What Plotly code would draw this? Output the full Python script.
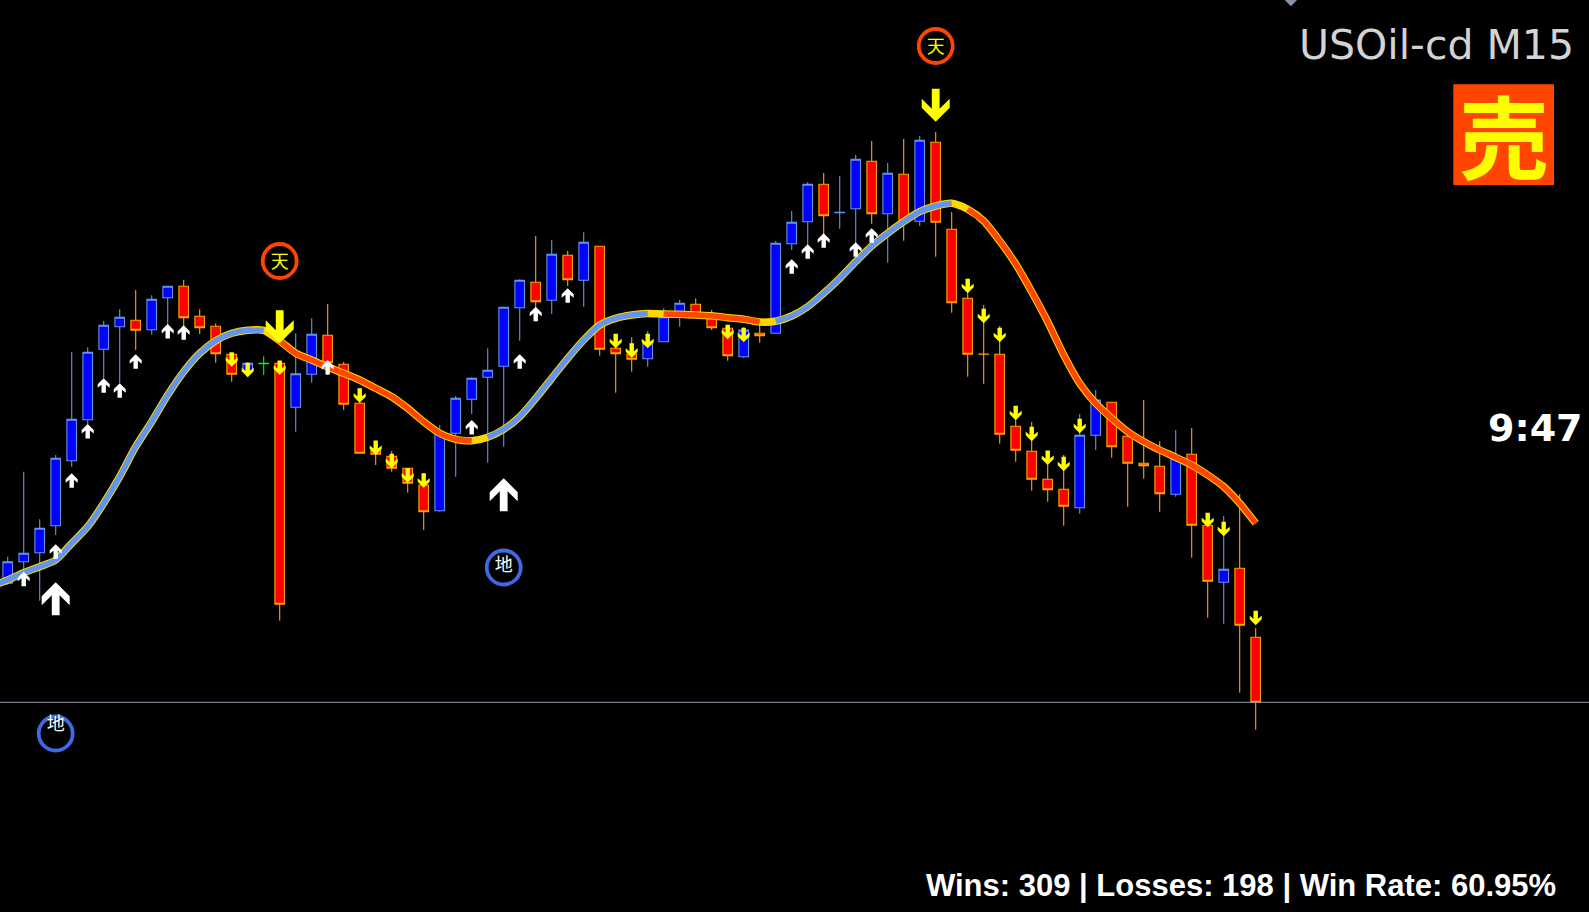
import plotly.graph_objects as go

# Price is on a notional scale (the reference has no visible price axis).
body_top = [350.3,358.7,383.7,453.7,492.7,559.7,586.7,594.7,591.7,612.7,625.7,625.7,595.7,585.7,557.7,548.7,548.7,548.7,538.3,577.7,
            576.7,547.7,508.7,461.3,455.7,443.7,427.0,478.7,513.7,533.7,541.7,604.7,631.7,629.7,657.7,656.7,669.7,665.7,563.7,557.7,
            569.0,595.3,608.7,607.7,595.3,583.7,582.0,578.7,668.7,689.7,727.7,727.7,699.7,752.7,750.7,738.7,737.7,771.7,769.7,682.7,
            613.7,558.0,557.7,485.7,460.7,432.7,422.7,476.7,512.0,509.7,475.7,448.7,445.7,453.7,457.7,386.7,342.7,343.7,274.7]
body_bottom = [328.7,350.3,359.3,386.3,451.3,492.3,562.7,585.3,581.7,582.3,614.3,594.3,584.3,558.3,537.7,540.3,548.3,307.7,504.7,537.7,
               549.3,507.7,458.7,457.7,443.7,428.7,400.3,401.3,478.7,512.7,534.7,545.7,604.3,610.3,611.7,632.3,631.7,562.7,558.3,552.7,
               553.3,570.3,594.7,594.7,584.3,556.3,555.3,576.3,578.7,668.3,690.3,696.3,699.3,703.3,698.3,698.3,689.7,690.7,689.7,609.3,
               557.7,557.7,477.7,461.7,432.7,422.3,405.7,404.3,476.7,465.3,448.7,446.3,418.3,417.7,386.7,330.7,329.7,286.7,209.7]
wick_high = [355.3,440.3,392.7,457.0,560.0,564.7,591.0,602.7,622.0,616.7,625.7,632.0,602.7,588.7,558.7,550.0,555.7,550.3,578.7,593.7,
             608.0,550.3,517.0,468.7,461.0,443.7,438.7,487.0,516.0,534.7,563.7,604.7,632.7,676.0,672.0,661.0,679.7,665.7,573.7,574.7,
             581.0,603.7,612.0,613.7,602.0,586.0,584.7,593.7,671.0,701.0,730.0,739.0,736.0,757.0,771.0,749.0,773.0,776.0,780.0,700.0,
             627.0,607.0,586.0,498.7,490.0,460.3,457.0,498.0,522.0,509.7,482.0,512.0,470.7,482.0,484.0,397.0,396.0,418.0,284.0]
wick_low = [327.0,328.7,311.3,377.0,445.3,487.0,533.7,528.7,562.0,577.3,587.0,585.3,578.0,549.3,530.3,535.3,537.0,291.3,480.3,529.3,
            537.0,502.0,458.7,447.0,440.3,419.3,382.0,400.3,435.3,498.0,449.3,465.3,571.3,604.7,598.0,626.0,605.3,556.3,519.3,540.3,
            545.3,570.3,585.3,594.7,582.0,551.3,554.0,569.3,578.7,662.0,667.0,677.0,683.3,668.7,688.3,649.3,671.3,686.0,655.3,599.3,
            535.3,528.3,468.3,450.3,421.3,410.3,386.3,398.3,462.0,454.3,405.3,433.3,400.3,415.3,354.3,294.3,288.3,219.3,182.3]
# u = bull (blue), d = bear (red), n = neutral doji (green)
direction = list("uuuuuuuudu" "uddddunduu" "ddddddduuu" "uuudududdd" "uuuddduduu"
                 "uduudududd" "ddddddduud" "ddduddudd")

ma_index = list(range(-1, 79))
ma_values = [326,332,339.3,345.3,352,368.7,385.3,408.7,435.3,465.3,490.3,517,540.3,558.7,571.3,578.7,581.7,581.7,571.3,558.7,552,
             545,538.7,532,523.7,515.3,503.7,490.3,478.7,472.7,471.3,474.7,482.7,495.3,513.7,533.7,553.7,572,587,593.7,597,
             598.5,598,597.7,597,596.3,594.3,592.7,590,590.7,596,605.3,618.7,633.7,650.3,666,678.7,690.3,700.3,706,708.7,
             702.7,691,671,648,620.3,590.3,557,528.7,508.7,493.7,480.3,470.3,462,454.7,447,437,425.3,408.7,388.7]
# Runs of the moving average by index: (first, last)
ma_up_runs = [(-1,16),(30,40),(48,59)]
ma_down_runs = [(17,29),(41,47),(60,78)]

small_up_idx = [1,3,4,5,6,7,8,10,11,20,29,32,33,35,49,50,51,53,54]
small_up_val = [340.3,367.7,438.7,488,533.7,528.7,557.7,588,586.7,552,492,557.7,605.3,623.7,652.7,667.7,678.7,669.7,683.7]
small_down_idx = [14,15,17,22,23,24,25,26,38,39,40,45,46,60,61,62,63,64,65,66,67,75,76,78]
small_down_val = [545.3,534.7,537,509.3,457,443.7,429.3,424.3,563.7,554.3,563.7,572.7,569.7,618.7,588.7,569.7,491.7,470.7,447,440.7,478.7,384.7,375.7,286.7]
big_up_idx = [3,31]
big_up_val = [329.7,433.7]
big_down_idx = [17,58]
big_down_val = [568.7,790.3]

top_idx = [17,58]
top_val = [651,866]
top_text_val = [649,863.5]
bottom_idx = [3,31]
bottom_val = [178.5,344.5]
bottom_text_val = [186.5,346]
bid_price = 209.7

title_text = "USOil-cd M15"
signal_text = "売"
clock_text = "9:47"
stats_text = "Wins: 309 | Losses: 198 | Win Rate: 60.95%"

W, H = 1589, 912
BLUE, LBLUE, RED, ORANGE = "#0000FF", "#6495ED", "#FF0000", "#FFA500"
GOLD = "#FFD700"

fig = go.Figure()

def ohlc(keep):
    xs, o, h, l, c = [], [], [], [], []
    for i, d in enumerate(direction):
        if d not in keep:
            continue
        xs.append(i); h.append(wick_high[i]); l.append(wick_low[i])
        if d == "d":
            o.append(body_top[i]); c.append(body_bottom[i])
        else:
            o.append(body_bottom[i]); c.append(body_top[i])
    return xs, o, h, l, c

xs, o, h, l, c = ohlc("ud")
fig.add_trace(go.Candlestick(x=xs, open=o, high=h, low=l, close=c, hoverinfo="skip",
    increasing=dict(line=dict(color=LBLUE, width=1.1), fillcolor=BLUE),
    decreasing=dict(line=dict(color=ORANGE, width=1.1), fillcolor=RED)))
xs, o, h, l, c = ohlc("n")
fig.add_trace(go.Candlestick(x=xs, open=o, high=h, low=l, close=c, hoverinfo="skip",
    increasing=dict(line=dict(color="#00FF00", width=1.1), fillcolor="#00FF00"),
    decreasing=dict(line=dict(color="#00FF00", width=1.1), fillcolor="#00FF00")))

SPLINE = dict(shape="spline", smoothing=0.7)
fig.add_trace(go.Scatter(x=ma_index, y=ma_values, mode="lines", hoverinfo="skip",
                         line=dict(color=GOLD, width=7.5, **SPLINE)))
def ma_run_trace(runs, color):
    for a, b in runs:
        xs = list(range(a, b + 1))
        ys = [ma_values[i + 1] for i in xs]
        fig.add_trace(go.Scatter(x=xs, y=ys, mode="lines", hoverinfo="skip",
                                 line=dict(color=color, width=5.5, **SPLINE)))
ma_run_trace(ma_up_runs, LBLUE)
ma_run_trace(ma_down_runs, "#FF4500")

# Signal circles and their labels
fig.add_trace(go.Scatter(x=top_idx, y=top_val, mode="markers", hoverinfo="skip",
    marker=dict(symbol="circle-open", size=34, color="#FF4500", line=dict(width=3.8, color="#FF4500"))))
fig.add_trace(go.Scatter(x=bottom_idx, y=bottom_val, mode="markers", hoverinfo="skip",
    marker=dict(symbol="circle-open", size=34, color="#4169E1", line=dict(width=3.8, color="#4169E1"))))
fig.add_trace(go.Scatter(x=top_idx, y=top_text_val, mode="text", text=["天"] * len(top_idx), hoverinfo="skip",
    textposition="middle center", textfont=dict(family="Noto Sans CJK JP", size=18, color="#FFFF00")))
fig.add_trace(go.Scatter(x=bottom_idx, y=bottom_text_val, mode="text", text=["地"] * len(bottom_idx), hoverinfo="skip",
    textposition="middle center", textfont=dict(family="Noto Sans CJK JP", size=18, color="#FFFFFF")))

# small clipped glyph at the very top edge
fig.add_trace(go.Scatter(x=[80.2], y=[913], mode="markers", hoverinfo="skip",
    marker=dict(symbol="diamond", size=11, color="#8A94A6")))

def arrow_path(k, up):
    s = -1 if up else 1
    pts = [(0,0),(6,6),(6,9.5),(2.2,6.5),(2.2,14.5),(-2.2,14.5),(-2.2,6.5),(-6,9.5),(-6,6)]
    if k > 1:
        pts = [(0,0),(14,14),(14,23),(3.9,13),(3.9,33),(-3.9,33),(-3.9,13),(-14,23),(-14,14)]
    return "M" + " L".join(f"{px:g},{s*py:g}" for px, py in pts) + " Z"

shapes = [dict(type="line", xref="paper", x0=0, x1=1, yref="y", y0=bid_price, y1=bid_price,
               line=dict(color="#8F9BA8", width=1), layer="above")]
def add_arrows(idx, vals, big, up, color):
    for i, v in zip(idx, vals):
        shapes.append(dict(type="path", xref="x", yref="y", xsizemode="pixel", ysizemode="pixel",
                           xanchor=i, yanchor=v, path=arrow_path(2 if big else 1, up),
                           fillcolor=color, line=dict(width=0), layer="above"))
add_arrows(small_up_idx, small_up_val, False, True, "#FFFFFF")
add_arrows(small_down_idx, small_down_val, False, False, "#FFFF00")
add_arrows(big_up_idx, big_up_val, True, True, "#FFFFFF")
add_arrows(big_down_idx, big_down_val, True, False, "#FFFF00")

# Signal box
shapes.append(dict(type="rect", xref="paper", yref="paper", x0=1453.3/W, x1=1554/W,
                   y0=1-185/H, y1=1-84.3/H, fillcolor="#FF4500", line=dict(width=0), layer="above"))

annotations = [
    dict(text=title_text, xref="paper", yref="paper", x=1576/W, y=1-45/H, xanchor="right", yanchor="middle",
         showarrow=False, font=dict(family="DejaVu Sans", size=41, color="#D3D3D3")),
    dict(text=f"<b>{signal_text}</b>", xref="paper", yref="paper", x=1503.7/W, y=1-133/H, xanchor="center", yanchor="middle",
         showarrow=False, font=dict(family="Noto Sans CJK JP", size=90, color="#FFFF00")),
    dict(text=f"<b>{clock_text}</b>", xref="paper", yref="paper", x=1585/W, y=1-428/H, xanchor="right", yanchor="middle",
         showarrow=False, font=dict(family="DejaVu Sans", size=38, color="#FFFFFF")),
    dict(text=f"<b>{stats_text}</b>", xref="paper", yref="paper", x=1558/W, y=1-885/H, xanchor="right", yanchor="middle",
         showarrow=False, font=dict(family="Liberation Sans", size=31, color="#FFFFFF")),
]

fig.update_layout(
    width=W, height=H, margin=dict(l=0, r=0, t=0, b=0),
    paper_bgcolor="#000000", plot_bgcolor="#000000", showlegend=False,
    boxmode="overlay", boxgap=0.4, boxgroupgap=0,
    xaxis=dict(visible=False, range=[-7.7/16, (W-7.7)/16], rangeslider=dict(visible=False), fixedrange=True),
    yaxis=dict(visible=False, range=[0, H], fixedrange=True),
    shapes=shapes, annotations=annotations,
)
fig.write_html("out.html", config=dict(displayModeBar=False),
               post_script="document.body.style.margin='0';document.body.style.background='#000';document.body.style.overflow='hidden';")
